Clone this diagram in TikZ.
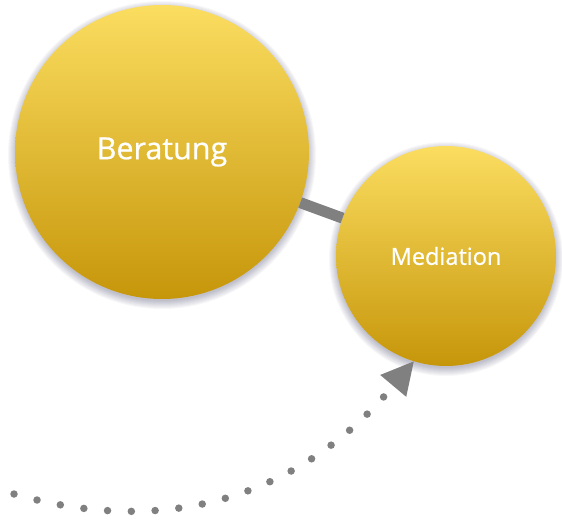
\documentclass[tikz,border=0pt]{standalone}
\usepackage{fontspec}
\setmainfont{Open Sans}[FakeBold=0.7,AutoFakeBold=0.7]
\usetikzlibrary{arrows.meta}
\definecolor{goldtop}{RGB}{251,221,96}
\definecolor{goldbot}{RGB}{198,150,10}
\definecolor{linegray}{RGB}{128,128,128}
\tikzset{
  bubble/.style={circle,inner sep=0pt,minimum size=#1,top color=goldtop,bottom color=goldbot,text=white},
  bubshadow/.style={black!80!blue,opacity=0.03}
}
\begin{document}
\begin{tikzpicture}[x=1pt,y=-1pt,line join=round,>=stealth]
	\useasboundingbox (0,0) rectangle (562,524);
	% soft shadows
	\foreach \d in {-1,0,...,7}{
		\fill[bubshadow] (162,155) circle ({147pt+\d pt});
		\fill[bubshadow] (446,259) circle ({110pt+\d pt});
	}
	\node[bubble=294pt,font=\fontsize{30.5}{36}\selectfont] (beratung) at (162,152) {Beratung};
	\node[bubble=220pt,font=\fontsize{23.5}{28}\selectfont] (mediation) at (446,256) {Mediation};
	\draw[linegray,line width=11pt] (beratung) -- (mediation);
	\coordinate (start) at (14,494);
	\draw[linegray,line width=7.5pt,line cap=round,dash pattern=on 0pt off 23.8pt,
		-{Triangle[length=32pt,width=34pt,line width=0pt]}] (start) to[out=-16,in=230,looseness=1.02] (mediation.253);
\end{tikzpicture}
\end{document}
